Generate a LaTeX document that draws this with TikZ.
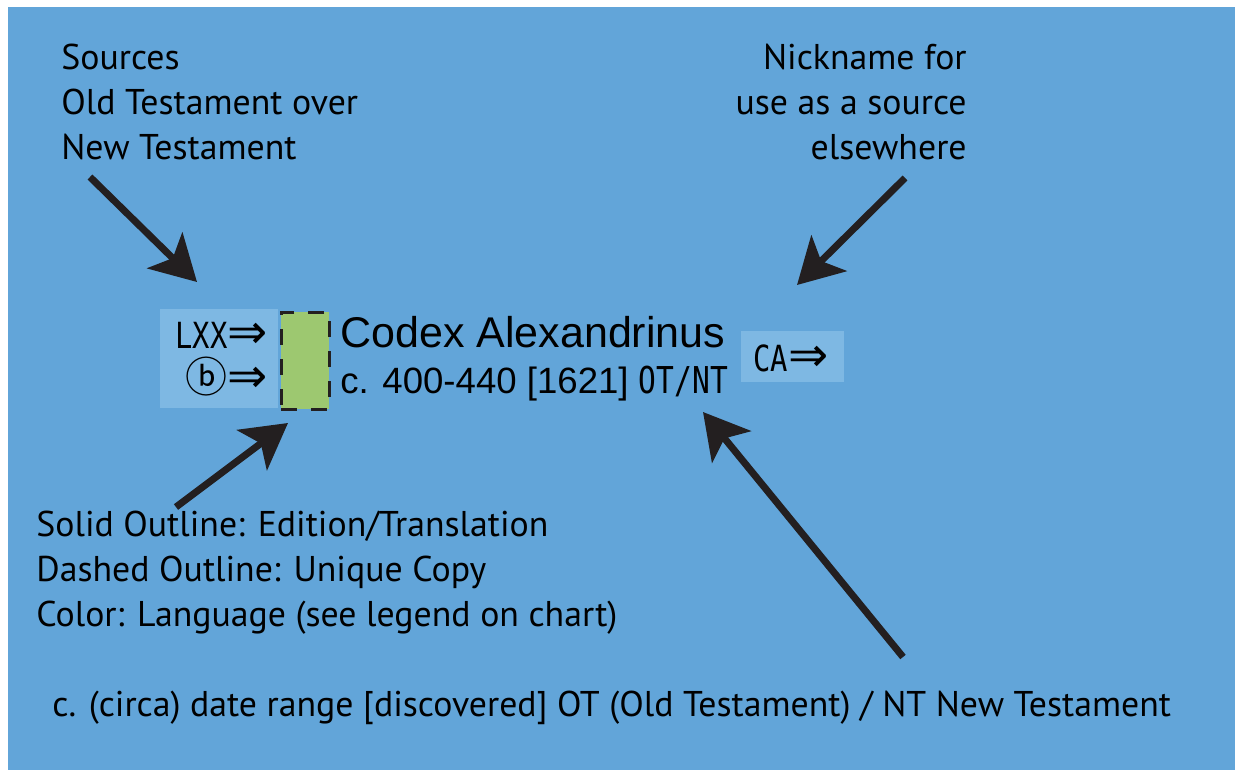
\documentclass[tikz,border=0pt]{standalone}
\usepackage{fontspec}
\setmainfont{PT Sans}
\newfontfamily\arialfont{Liberation Sans}
\newfontfamily\narrowmono[FakeStretch=0.8]{DejaVu Sans Mono}
\newfontfamily\symfont{DejaVu Sans}
\newfontfamily\circfont{Noto Sans CJK JP}
\usetikzlibrary{arrows.meta}

\definecolor{bgblue}{RGB}{98,165,217}
\definecolor{liteblue}{RGB}{126,184,227}
\definecolor{langgreen}{RGB}{157,200,112}
\definecolor{inkblack}{RGB}{35,31,32}

\newcommand{\dblarrow}{{\symfont\fontsize{24}{24}\selectfont ⇒}}

\begin{document}
\begin{tikzpicture}[
        x=0.5pt, y=-0.5pt,
        note/.style={inner sep=0pt, font=\fontsize{17.9}{22.5}\selectfont},
        title/.style={inner sep=0pt, font=\arialfont\fontsize{21.5}{21.5}\selectfont},
        tag/.style={inner sep=0pt, font=\narrowmono\fontsize{18}{18}\selectfont},
        litebox/.style={fill=liteblue, inner sep=0pt},
        codebox/.style={fill=langgreen, draw=inkblack, line width=1.5pt, dash pattern=on 8pt off 7pt, inner sep=0pt},
        pointer/.style={draw=inkblack, line width=3.5pt, -{Stealth[length=22.5pt, width=25pt, inset=5.5pt]}}
        ]
        \useasboundingbox (0,0) rectangle (1235,770);
        \fill[bgblue] (8,7) rectangle (1235,770);

        % explanations (base = last line)
        \node[note, anchor=base west, align=left] (src) at (61,160) {Sources\\Old Testament over\\New Testament};
        \node[note, anchor=base east, align=right] (nick) at (967,160) {Nickname for\\use as a source\\elsewhere};
        \node[note, anchor=base west, align=left] (legend) at (36,626) {Solid Outline: Edition/Translation\\Dashed Outline: Unique Copy\\Color: Language (see legend on chart)};
        \node[note, anchor=base west] (key) at (52,716) {c. (circa) date range [discovered] OT (Old Testament) / NT New Testament};

        % the sample entry
        \node[litebox, minimum width=59pt, minimum height=49.5pt] (srcbox) at (219,358.5) {};
        \node[codebox, minimum width=24pt, minimum height=48.5pt] (gbox) at (305,360.5) {};
        \node[litebox, minimum width=51.5pt, minimum height=25.5pt] (nickbox) at (792.5,356.5) {};
        \node[tag, anchor=base east] (lxx) at (268,348) {LXX\dblarrow};
        \node[tag, anchor=base east] (bsym) at (268,392) {{\circfont\fontsize{21}{21}\selectfont ⓑ}\dblarrow};
        \node[tag, anchor=base west] (ca) at (753,371) {CA\dblarrow};
        \node[title, anchor=base west] (codex) at (340,347) {Codex Alexandrinus};
        \node[title, anchor=base west, font=\arialfont\fontsize{18.3}{18.3}\selectfont] (dates) at (340,393) {c. 400-440 [1621] {\narrowmono\fontsize{18.5}{18.5}\selectfont OT/NT}};

        % arrows
        \coordinate (p1) at (90,177);
        \coordinate (q1) at (197,282);
        \coordinate (p2) at (905,178);
        \coordinate (q2) at (797,285);
        \coordinate (p3) at (176,507);
        \coordinate (q3) at (288,423);
        \coordinate (p4) at (903,657);
        \coordinate (q4) at (703,412);
        \draw[pointer] (p1) -- (q1);
        \draw[pointer] (p2) -- (q2);
        \draw[pointer] (p3) -- (q3);
        \draw[pointer] (p4) -- (q4);
\end{tikzpicture}
\end{document}
